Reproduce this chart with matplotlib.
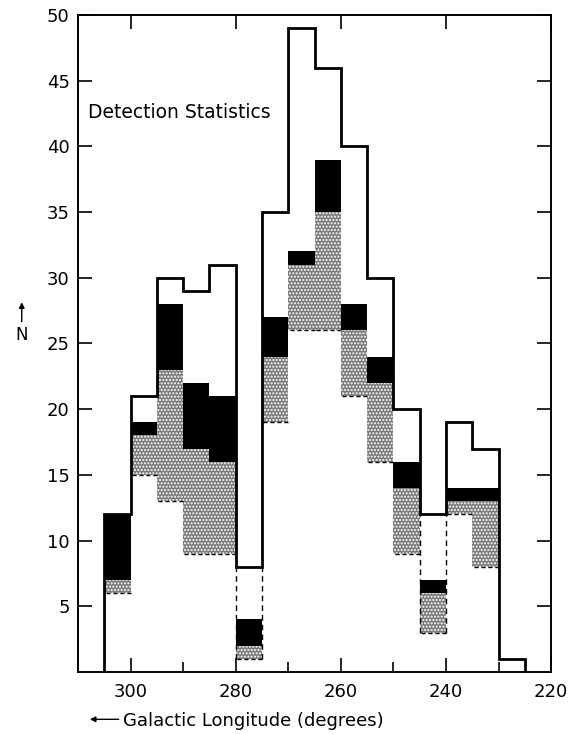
import numpy as np
import matplotlib
matplotlib.use("Agg")
import matplotlib.pyplot as plt

# bins of 5 degrees, from high to low longitude
bin_left = [305, 300, 295, 290, 285, 280, 275, 270, 265, 260, 255, 250, 245, 240, 235, 230]
total = [12, 21, 30, 29, 31, 8, 35, 49, 46, 40, 30, 20, 12, 19, 17, 1]
black_top = [12, 19, 28, 22, 21, 4, 27, 32, 39, 28, 24, 16, 7, 14, 14, None]
black_bot = [7, 18, 23, 17, 16, 2, 24, 31, 35, 26, 22, 14, 6, 13, 13, None]
stip_bot = [6, 15, 13, 9, 9, 1, 19, 26, 26, 21, 16, 9, 3, 12, 8, None]
dashed_bins = [280, 245]   # bins drawn as dashed boxes below the envelope

BIN = 5

fig = plt.figure(figsize=(5.73, 7.34), dpi=100)
ax = fig.add_axes([0.136, 0.0845, 0.826, 0.8951])

# envelope of totals as a step outline
xs = [bin_left[0]]
ys = [0]
for l, t in zip(bin_left, total):
    xs += [l, l - BIN]
    ys += [t, t]
xs.append(bin_left[-1] - BIN)
ys.append(0)
ax.plot(xs, ys, color="black", lw=2.0, solid_joinstyle="miter", zorder=4)

for l, t, bt, bb, sb in zip(bin_left, total, black_top, black_bot, stip_bot):
    if bt is None:
        continue
    r = l - BIN
    # black band
    ax.fill_between([r, l], bb, bt, color="black", lw=0, zorder=2)
    # stippled band
    ax.fill_between([r, l], sb, bb, facecolor="#7a7a7a", edgecolor="white",
                    hatch=".....", lw=0, zorder=1)
    ax.plot([r, l], [sb, sb], color="black", lw=1.0, ls=(0, (3, 2)), zorder=3)
    if l in dashed_bins:
        ax.plot([l, l], [sb, t], color="black", lw=1.0, ls=(0, (4, 3)), zorder=3)
        ax.plot([r, r], [sb, t], color="black", lw=1.0, ls=(0, (4, 3)), zorder=3)

ax.set_xlim(310, 220)
ax.set_ylim(0, 50)

ax.set_xticks([300, 280, 260, 240, 220])
ax.set_xticks([290, 270, 250, 230], minor=True)
ax.set_yticks([5, 10, 15, 20, 25, 30, 35, 40, 45, 50])
ax.tick_params(axis="both", which="major", direction="in", length=10, width=1.2,
               labelsize=13, top=True, right=True)
ax.tick_params(axis="x", which="major", pad=8)
ax.tick_params(axis="y", which="major", pad=6)
ax.tick_params(axis="x", which="minor", direction="in", length=7, width=1.2)
for s in ax.spines.values():
    s.set_linewidth(1.4)

ax.text(308, 42.6, "Detection Statistics", fontsize=13.5, va="center", ha="left")

# axis labels with arrows
fig.text(0.038, 0.544, "N", fontsize=12, ha="center", va="center")
fig.add_artist(matplotlib.patches.FancyArrowPatch(
    (0.038, 0.558), (0.038, 0.592), transform=fig.transFigure,
    arrowstyle="-|>", mutation_scale=8, lw=1.0, color="black"))
fig.text(0.215, 0.018, "Galactic Longitude (degrees)", fontsize=13, ha="left", va="center")
fig.add_artist(matplotlib.patches.FancyArrowPatch(
    (0.212, 0.02), (0.152, 0.02), transform=fig.transFigure,
    arrowstyle="-|>", mutation_scale=8, lw=1.0, color="black"))

fig.savefig("out.png", dpi=100)
